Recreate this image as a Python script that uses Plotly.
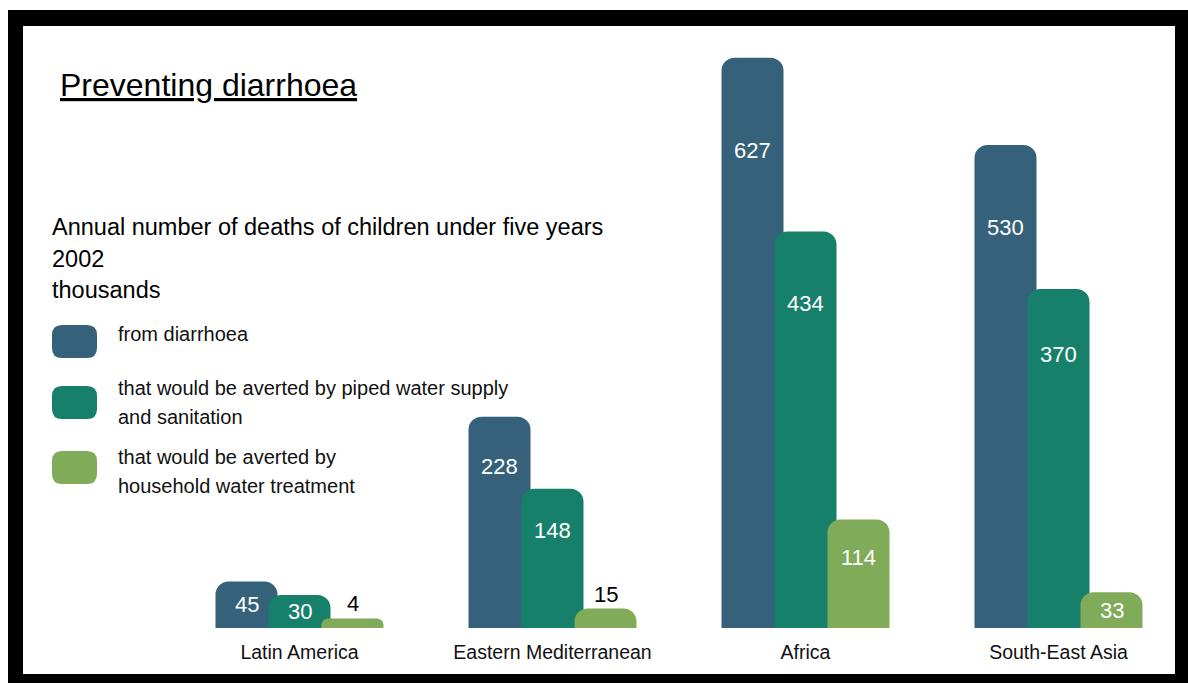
import plotly.graph_objects as go

# ---- data ----
regions = ["Latin America", "Eastern Mediterranean", "Africa", "South-East Asia"]
deaths_diarrhoea = [45, 228, 627, 530]
averted_piped = [30, 148, 434, 370]
averted_household = [4, 15, 114, 33]

series_names = [
    ["from diarrhoea"],
    ["that would be averted by piped water supply", "and sanitation"],
    ["that would be averted by", "household water treatment"],
]
series_values = [deaths_diarrhoea, averted_piped, averted_household]
colors = ["#35627a", "#17806a", "#80ab59"]

title_text = "Preventing diarrhoea"
subtitle_lines = ["Annual number of deaths of children under five years", "2002", "thousands"]

# ---- geometry / styles ----
W, H = 1188, 683
PLOT_H = 628                     # plot area from top of page to baseline
FONT = "Liberation Sans, Arial, sans-serif"

PX_X = 253.0                     # px per category step
G0 = 299.5                       # px centre of first group
PX_Y = 0.9                       # px per thousand
ZERO_PAD = 3.0                   # px below zero kept inside plot
STROKE = 6
bar_w_px = 56
bar_w = bar_w_px / PX_X
centres_px = [-53, 0, 53]


def px2paper_x(px):
    return px / W


def px2paper_y(py):
    return (PLOT_H - py) / PLOT_H


x_idx = list(range(len(regions)))
fig = go.Figure()
for name, vals, col, cpx in zip(series_names, series_values, colors, centres_px):
    fig.add_trace(go.Bar(
        x=x_idx, y=vals, name=" ".join(name),
        width=bar_w, offset=cpx / PX_X - bar_w / 2,
        marker=dict(color=col, line=dict(color=col, width=STROKE), cornerradius=10),
        hoverinfo="skip", showlegend=False,
    ))

annotations = []
# value labels
for vals, cpx in zip(series_values, centres_px):
    for i, v in enumerate(vals):
        xc = i + cpx / PX_X
        if v >= 25:
            yc = v - min(v / 2, 0.12 * v + 25)
            annotations.append(dict(x=xc, y=yc, xref="x", yref="y", text=str(v),
                                    showarrow=False, xanchor="center", yanchor="middle",
                                    font=dict(family=FONT, size=22, color="white")))
        else:
            annotations.append(dict(x=xc, y=v, xref="x", yref="y", text=str(v),
                                    showarrow=False, xanchor="center", yanchor="bottom",
                                    yshift=3,
                                    font=dict(family=FONT, size=22, color="black")))

# title & subtitle
annotations.append(dict(x=px2paper_x(58), y=px2paper_y(85), xref="paper", yref="paper",
                        text="<u>" + title_text + "</u>", showarrow=False,
                        xanchor="left", yanchor="middle",
                        font=dict(family=FONT, size=32, color="black")))
for k, line in enumerate(subtitle_lines):
    annotations.append(dict(x=px2paper_x(50), y=px2paper_y(227 + 31.5 * k),
                            xref="paper", yref="paper",
                            text=line, showarrow=False, align="left",
                            xanchor="left", yanchor="middle",
                            font=dict(family=FONT, size=23.5, color="black")))

# legend (custom)
shapes = []
sw_tops = [325, 386, 451]
first_line_centres = [334, 388, 457]
for name, col, top, tc in zip(series_names, colors, sw_tops, first_line_centres):
    x0, x1, y0, y1, r = 52, 97, top, top + 33, 10
    path = (f"M {px2paper_x(x0 + r)},{px2paper_y(y0)} "
            f"L {px2paper_x(x1 - r)},{px2paper_y(y0)} "
            f"Q {px2paper_x(x1)},{px2paper_y(y0)} {px2paper_x(x1)},{px2paper_y(y0 + r)} "
            f"L {px2paper_x(x1)},{px2paper_y(y1 - r)} "
            f"Q {px2paper_x(x1)},{px2paper_y(y1)} {px2paper_x(x1 - r)},{px2paper_y(y1)} "
            f"L {px2paper_x(x0 + r)},{px2paper_y(y1)} "
            f"Q {px2paper_x(x0)},{px2paper_y(y1)} {px2paper_x(x0)},{px2paper_y(y1 - r)} "
            f"L {px2paper_x(x0)},{px2paper_y(y0 + r)} "
            f"Q {px2paper_x(x0)},{px2paper_y(y0)} {px2paper_x(x0 + r)},{px2paper_y(y0)} Z")
    shapes.append(dict(type="path", path=path, xref="paper", yref="paper",
                       fillcolor=col, line=dict(width=0)))
    for k, line in enumerate(name):
        annotations.append(dict(x=px2paper_x(116), y=px2paper_y(tc + 28.5 * k),
                                xref="paper", yref="paper",
                                text=line, showarrow=False, align="left",
                                xanchor="left", yanchor="middle",
                                font=dict(family=FONT, size=20, color="#111111")))

# black frame
frame = [(8, 10, 1195, 26), (8, 10, 23, 695), (1175, 10, 1195, 695), (8, 674, 1195, 695)]
for x0, y0, x1, y1 in frame:
    shapes.append(dict(type="rect", xref="paper", yref="paper",
                       x0=px2paper_x(x0), x1=px2paper_x(x1),
                       y0=px2paper_y(y0), y1=px2paper_y(y1),
                       fillcolor="black", line=dict(width=0)))

fig.update_layout(
    width=W, height=H, autosize=False,
    margin=dict(l=0, r=0, t=0, b=H - PLOT_H, pad=0),
    paper_bgcolor="white", plot_bgcolor="white",
    barmode="overlay",
    xaxis=dict(range=[-G0 / PX_X, (W - G0) / PX_X], tickvals=x_idx, ticktext=regions,
               showgrid=False, zeroline=False, showline=False, ticks="",
               ticklabelstandoff=10,
               tickfont=dict(family=FONT, size=19.5, color="#111111"), fixedrange=True),
    yaxis=dict(range=[-ZERO_PAD / PX_Y, (PLOT_H - ZERO_PAD) / PX_Y], visible=False,
               showgrid=False, zeroline=False, fixedrange=True),
    annotations=annotations, shapes=shapes,
)

fig.write_html("out.html", config={"displayModeBar": False},
               post_script="document.body.style.margin='0';document.body.style.overflow='hidden';")
